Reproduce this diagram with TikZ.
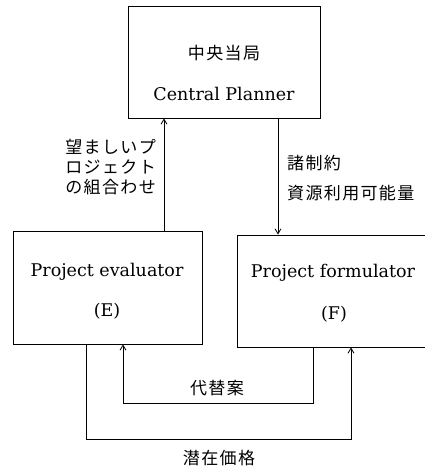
\documentclass[tikz,border=0pt]{standalone}
\usepackage{fontspec}
\setmainfont{DejaVu Serif}
\newfontfamily\jp[LetterSpace=8]{Noto Sans CJK JP}
\usetikzlibrary{arrows.meta}
\tikzset{
  box/.style={draw, line width=0.9pt, inner sep=0pt},
  arr/.style={line width=0.8pt, -{Straight Barb[length=5pt,width=6pt]}},
  lat/.style={font=\fontsize{17.5}{20}\selectfont, inner sep=0pt},
  cjk/.style={font=\fontsize{17}{20}\jp, inner sep=0pt},
}
\begin{document}
\begin{tikzpicture}[x=1pt,y=-1pt]
\useasboundingbox (0,0) rectangle (425,472);
% boxes
\node[box, minimum width=192pt, minimum height=112pt] (C) at (224,62) {};
\node[box, minimum width=189pt, minimum height=113pt] (E) at (107.5,287.5) {};
\node[box, minimum width=210pt, minimum height=112pt] (F) at (342,291) {};
% texts in boxes
\node[cjk] (c1) at (224,53) {中央当局};
\node[lat] (c2) at (224,94) {Central Planner};
\node[lat] (e1) at (107,272) {Project evaluator};
\node[lat] (e2) at (107,311) {(E)};
\node[lat] (f1) at (333,273) {Project formulator};
\node[lat] (f2) at (334,314) {(F)};
% x positions of connectors
\coordinate (xu) at (164,0);
\coordinate (xd) at (278,0);
\coordinate (xa) at (313,0);
\coordinate (xb) at (123,0);
\coordinate (xc) at (86,0);
\coordinate (xe) at (351,0);
\coordinate (ya) at (0,403);
\coordinate (yb) at (0,439);
% vertical arrows
\draw[arr] (E.north -| xu) -- (C.south -| xu);
\draw[arr] (C.south -| xd) -- (F.north -| xd);
% loops
\draw[arr] (F.south -| xa) -- (xa |- ya) -- (xb |- ya) -- (E.south -| xb);
\draw[arr] (E.south -| xc) -- (xc |- yb) -- (xe |- yb) -- (F.south -| xe);
% labels
\node[cjk, align=left, anchor=east] (l1) at (156,167) {望ましいプ\\ロジェクト\\の組合わせ};
\node[cjk, anchor=west] (l2) at (287,163) {諸制約};
\node[cjk, anchor=west] (l3) at (287,193) {資源利用可能量};
\node[cjk] (l4) at (217,388) {代替案};
\node[cjk] (l5) at (219,458) {潜在価格};
\end{tikzpicture}
\end{document}
